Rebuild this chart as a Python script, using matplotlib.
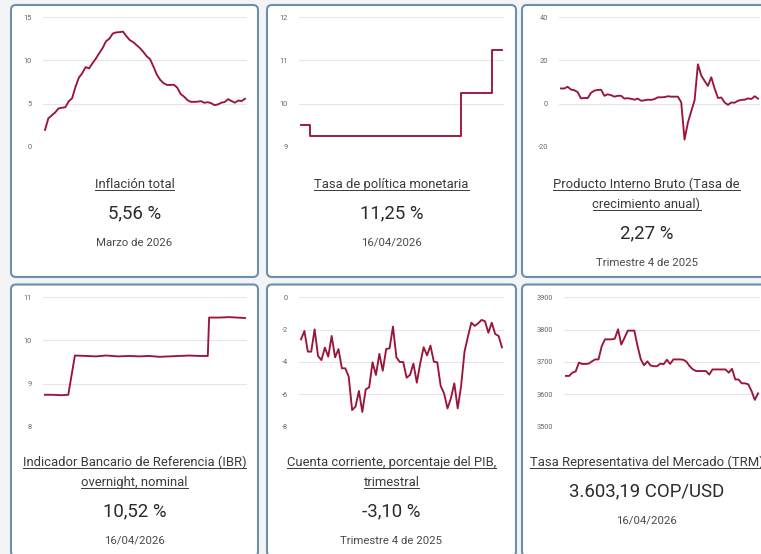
import matplotlib
matplotlib.use('Agg')
import matplotlib.pyplot as plt
from matplotlib.patches import FancyBboxPatch
from matplotlib.lines import Line2D
from matplotlib.transforms import IdentityTransform

plt.rcParams['font.family'] = ['Roboto', 'DejaVu Sans']
plt.rcParams['axes.unicode_minus'] = False

# ---- data ----
# Inflación total, monthly Apr 2021 - Mar 2026
inflacion = [1.95, 3.30, 3.63, 3.97, 4.44, 4.51, 4.58, 5.26, 5.62,
             6.94, 8.01, 8.53, 9.23, 9.07, 9.67, 10.21, 10.84, 11.44, 12.22, 12.53, 13.12,
             13.25, 13.28, 13.34, 12.82, 12.36, 12.13, 11.78, 11.43, 10.99, 10.48, 10.15, 9.28,
             8.35, 7.74, 7.36, 7.16, 7.16, 7.18, 6.86, 6.12, 5.81, 5.41, 5.20, 5.20,
             5.22, 5.28, 5.09, 5.16, 5.05, 4.82, 4.90, 5.10, 5.18, 5.51, 5.30, 5.10,
             5.35, 5.29, 5.56]

# Tasa de política monetaria (step changes, day index)
tpm_dia = [0, 14, 239, 286, 301]
tpm_val = [9.50, 9.25, 10.25, 11.25, 11.25]

# PIB, annual growth, quarterly 2011Q1 - 2025Q4
pib = [7.0, 7.0, 7.8, 6.5, 6.2, 5.3, 2.4, 2.6, 2.5, 5.0,
       6.0, 6.3, 6.4, 3.6, 4.3, 3.9, 3.2, 3.6, 3.6, 2.3,
       2.5, 2.2, 1.8, 2.3, 1.3, 1.5, 1.8, 1.7, 2.1, 2.9,
       2.9, 3.0, 3.4, 3.2, 3.2, 3.2, 0.6, -16.7, -8.8, -3.6,
       1.5, 18.2, 13.0, 10.5, 8.2, 12.2, 7.0, 2.6, 2.8, 0.5,
       -0.6, 0.5, 0.4, 1.3, 1.7, 1.8, 2.4, 2.1, 3.4, 2.27]

# IBR overnight (day index, value)
ibr_dia = [0, 12, 25, 35, 45, 62, 77, 92, 110, 127, 142, 157, 172, 187,
           202, 217, 232, 245, 247, 262, 277, 301]
ibr_val = [8.74, 8.74, 8.73, 8.74, 9.65, 9.64, 9.63, 9.65, 9.63, 9.64, 9.63, 9.64, 9.62, 9.63,
           9.64, 9.65, 9.64, 9.64, 10.53, 10.53, 10.54, 10.52]

# Cuenta corriente % PIB, quarterly
cuenta = [-2.60, -2.08, -3.36, -3.36, -1.98, -3.63, -3.88, -3.11, -3.67, -2.39,
          -3.71, -3.20, -4.39, -4.39, -4.90, -6.97, -6.76, -5.79, -7.09, -5.69,
          -5.57, -4.02, -4.80, -3.50, -4.54, -3.20, -3.15, -1.81, -3.71, -4.00,
          -4.00, -4.97, -4.80, -4.10, -5.28, -4.08, -3.09, -3.59, -2.99, -3.98,
          -4.02, -5.48, -5.94, -6.87, -6.25, -5.32, -6.87, -5.48, -3.36, -2.43,
          -1.57, -1.77, -1.61, -1.40, -1.48, -2.19, -1.57, -2.27, -2.39, -3.10]

# TRM COP/USD
trm = [3657, 3657, 3667, 3671, 3698, 3694, 3694, 3695, 3702, 3708,
       3708, 3749, 3770, 3770, 3770, 3772, 3801, 3754, 3775, 3797,
       3797, 3797, 3749, 3708, 3690, 3702, 3689, 3687, 3687, 3695,
       3693, 3707, 3694, 3708, 3708, 3708, 3707, 3701, 3687, 3677,
       3672, 3672, 3672, 3672, 3661, 3677, 3677, 3677, 3677, 3677,
       3667, 3679, 3646, 3646, 3634, 3634, 3631, 3610, 3583, 3603.19]

titulos = [['Inflación total'],
           ['Tasa de política monetaria'],
           ['Producto Interno Bruto (Tasa de', 'crecimiento anual)'],
           ['Indicador Bancario de Referencia (IBR)', 'overnight, nominal'],
           ['Cuenta corriente, porcentaje del PIB,', 'trimestral'],
           ['Tasa Representativa del Mercado (TRM)']]
valores = ['5,56 %', '11,25 %', '2,27 %', '10,52 %', '-3,10 %', '3.603,19 COP/USD']
fechas = ['Marzo de 2026', '16/04/2026', 'Trimestre 4 de 2025',
          '16/04/2026', 'Trimestre 4 de 2025', '16/04/2026']
y_ticks = [[0, 5, 10, 15], [9, 10, 11, 12], [-20, 0, 20, 40],
           [8, 9, 10, 11], [-8, -6, -4, -2, 0], [3500, 3600, 3700, 3800, 3900]]

series = [(list(range(len(inflacion))), inflacion, 'default'),
          (tpm_dia, tpm_val, 'steps-post'),
          (list(range(len(pib))), pib, 'default'),
          (ibr_dia, ibr_val, 'default'),
          (list(range(len(cuenta))), cuenta, 'default'),
          (list(range(len(trm))), trm, 'default')]

# ---- layout (pixels, top-left origin) ----
W, H = 761, 554
LINE = '#9a1538'
BORDER = '#6d8fae'

fig = plt.figure(figsize=(W / 100, H / 100), dpi=100)
fig.patch.set_facecolor('#f3f4f6')

cols = [(11, 258), (267, 516), (522, 771)]
row_top = [5, 284.5]
row_off = [0, 280]
text_off = [0, 278]
plot_x = [[(43, 247), (299, 504), (559, 760)],
          [(43, 247), (299, 504), (564, 760)]]

renderer = fig.canvas.get_renderer()

for k in range(6):
    r, c = divmod(k, 3)
    cx0, cx1 = cols[c]
    top = row_top[r]
    card = FancyBboxPatch((cx0, H - (top + 272)), cx1 - cx0, 272,
                          boxstyle='round,pad=0,rounding_size=5',
                          transform=IdentityTransform(), fc='white',
                          ec=BORDER, lw=1.5, zorder=0)
    fig.add_artist(card)

    px0, px1 = plot_x[r][c]
    py0, py1 = 17.3 + row_off[r], 146.7 + row_off[r]
    ax = fig.add_axes([px0 / W, 1 - py1 / H, (px1 - px0) / W, (py1 - py0) / H])
    ax.patch.set_alpha(0)
    xs, ys, ds = series[k]
    ax.plot(xs, ys, color=LINE, lw=1.35, drawstyle=ds, solid_joinstyle='round')
    ticks = y_ticks[k]
    ax.set_ylim(ticks[0], ticks[-1])
    ax.set_yticks(ticks)
    ax.set_xlim(xs[0] - (xs[-1] - xs[0]) * 0.01, xs[-1] + (xs[-1] - xs[0]) * 0.01)
    ax.set_xticks([])
    ax.grid(axis='y', color='#e6e6e6', lw=0.8)
    ax.set_axisbelow(True)
    for s in ax.spines.values():
        s.set_visible(False)
    ax.tick_params(axis='y', length=0, pad=8, labelsize=5.3, labelcolor='#666666')

    # texts
    xc = (cx0 + cx1) / 2
    base = 188 + text_off[r]
    for j, line in enumerate(titulos[k]):
        yb = base + 20 * j
        t = fig.text(xc / W, 1 - yb / H, line, ha='center', va='baseline',
                     fontsize=9.4, color='#3a3a3a')
        bb = t.get_window_extent(renderer)
        fig.add_artist(Line2D([bb.x0, bb.x1], [H - yb - 2, H - yb - 2],
                              transform=IdentityTransform(), color='#3a3a3a', lw=0.7))
    extra = 20 * (len(titulos[k]) - 1)
    fig.text(xc / W, 1 - (base + 30 + extra) / H, valores[k], ha='center',
             va='baseline', fontsize=13.4, color='#2b2b2b')
    fig.text(xc / W, 1 - (base + 58 + extra) / H, fechas[k], ha='center',
             va='baseline', fontsize=8.2, color='#4a4a4a')

fig.savefig('out.png', dpi=100, facecolor=fig.get_facecolor())
